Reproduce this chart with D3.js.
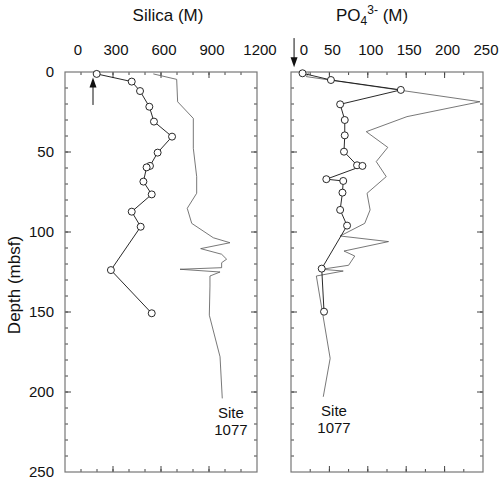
<!DOCTYPE html>
<html>
<head>
<meta charset="utf-8">
<script src="https://cdn.jsdelivr.net/npm/d3@7"></script>
<style>
  body { margin: 0; background: #fff; }
  text { font-family: "Liberation Sans", Arial, sans-serif; fill: #111; }
</style>
</head>
<body>
<script>
// silica, open circles (depth mbsf, uM)
const siDepth = [1.2, 6, 11.9, 21.7, 31, 40.4, 50.4, 58.7, 59.6, 68.5, 76.5, 87.3, 96.7, 123.8, 150.8];
const siValue = [198, 417, 469, 527, 556, 669, 579, 531, 510, 490, 542, 417, 473, 287, 542];
// silica, thin grey line
const siLineDepth = [1.2, 4.6, 18.6, 29, 47.7, 65.4, 75.8, 85.2, 94.6, 103.6, 106.7, 110.4, 113.9, 117, 119.2, 122.3, 123.3, 125, 127.5, 133.8, 152, 178, 204];
const siLineValue = [552, 698, 704, 802, 802, 823, 823, 764, 792, 927, 1031, 848, 979, 1010, 979, 979, 719, 969, 906, 906, 902, 969, 983];

// phosphate, open circles
const poDepth = [0.8, 5, 11.2, 20.2, 30, 39.6, 49.8, 58.3, 58.7, 67, 68.1, 75.4, 86.2, 96, 122.9, 149.8];
const poValue = [15, 52, 143, 64, 70, 70, 69, 86, 93, 46, 68, 67, 64, 73, 40, 43];
// phosphate, thin grey line
const poLineDepth = [0.4, 2.9, 18.6, 27.9, 37.3, 47.1, 56, 65.4, 75.8, 86.2, 94.6, 102.5, 106, 111.9, 115, 120.8, 123.3, 124.4, 127.5, 179, 203];
const poLineValue = [23, 20, 246, 151, 98, 126, 111, 124, 99, 103, 96, 64, 127, 69, 83, 75, 40, 68, 33, 51, 42];

const siTicks = [0, 300, 600, 900, 1200];
const poTicks = [0, 50, 100, 150, 200, 250];
const depthTicks = [0, 50, 100, 150, 200, 250];

const width = 502, height = 481;
const svg = d3.select("body").append("svg")
  .attr("width", width).attr("height", height);

const y = d3.scaleLinear().domain([0, 250]).range([72, 472]);
const xSi = d3.scaleLinear().domain([0, 1200]).range([65, 257]);
const xPo = d3.scaleLinear().domain([0, 250]).range([291, 483]);

//draws frame, inward ticks and top labels for one panel
function panel(x, minorStep, majorStep, labels, showDepth) {
  const g = svg.append("g");
  const [x0, x1] = x.range();
  const [d0, d1] = x.domain();
  const minor = d3.range(d0 + minorStep, d1, minorStep);
  const major = minor.filter(v => Math.abs(v / majorStep - Math.round(v / majorStep)) < 1e-6);
  const yMinor = d3.range(10, 250, 10);
  const yMajor = yMinor.filter(v => v % 50 === 0);

  const tick = (sel, data, len, horiz) => {
    sel.selectAll(null).data(data).join("line")
      .attr("stroke", "#444").attr("stroke-width", 1)
      .each(function(v) {
        const s = d3.select(this);
        if (horiz) {
          // top and bottom edges
          s.attr("x1", x(v)).attr("x2", x(v)).attr("y1", len.y).attr("y2", len.y + len.d);
        } else {
          s.attr("y1", y(v)).attr("y2", y(v)).attr("x1", len.x).attr("x2", len.x + len.d);
        }
      });
  };
  tick(g, minor, {y: 72, d: 3}, true);
  tick(g, major, {y: 72, d: 6}, true);
  tick(g, minor, {y: 472, d: -3}, true);
  tick(g, major, {y: 472, d: -6}, true);
  tick(g, yMinor, {x: x0, d: 3}, false);
  tick(g, yMajor, {x: x0, d: 6}, false);
  tick(g, yMinor, {x: x1, d: -3}, false);
  tick(g, yMajor, {x: x1, d: -6}, false);

  g.append("rect")
    .attr("x", x0).attr("y", y(0))
    .attr("width", x1 - x0).attr("height", y(250) - y(0))
    .attr("fill", "none").attr("stroke", "#777").attr("stroke-width", 1.2);

  g.selectAll(null).data(labels).join("text")
    .attr("x", v => x(v) + (v === 0 ? 13 : 3))
    .attr("y", 55)
    .attr("text-anchor", "middle")
    .style("font-size", "15px")
    .text(v => v);

  if (showDepth) {
    g.selectAll(null).data(depthTicks).join("text")
      .attr("x", 54).attr("y", d => y(d))
      .attr("dy", "0.35em")
      .attr("text-anchor", "end")
      .style("font-size", "15px")
      .text(d => d);
  }
}

panel(xSi, 100, 300, siTicks, true);
panel(xPo, 25, 50, poTicks, false);

//profile lines and circles
function profile(x, lineD, lineV, ptD, ptV) {
  const greyLine = d3.line().x(i => x(lineV[i])).y(i => y(lineD[i]));
  svg.append("path")
    .attr("d", greyLine(d3.range(lineD.length)))
    .attr("fill", "none").attr("stroke", "#555").attr("stroke-width", 0.8);

  const ptLine = d3.line().x(i => x(ptV[i])).y(i => y(ptD[i]));
  svg.append("path")
    .attr("d", ptLine(d3.range(ptD.length)))
    .attr("fill", "none").attr("stroke", "#111").attr("stroke-width", 0.9);

  svg.append("g").selectAll("circle").data(d3.range(ptD.length)).join("circle")
    .attr("cx", i => x(ptV[i])).attr("cy", i => y(ptD[i]))
    .attr("r", 3.5)
    .attr("fill", "#fff").attr("stroke", "#111").attr("stroke-width", 0.9);
}

profile(xSi, siLineDepth, siLineValue, siDepth, siValue);
profile(xPo, poLineDepth, poLineValue, poDepth, poValue);

// seawater arrows
function arrow(xp, yTail, yTip) {
  const dir = yTip < yTail ? 1 : -1;
  svg.append("line")
    .attr("x1", xp).attr("x2", xp).attr("y1", yTail).attr("y2", yTip + dir * 8)
    .attr("stroke", "#111").attr("stroke-width", 1);
  svg.append("path")
    .attr("d", `M${xp},${yTip} L${xp - 3.5},${yTip + dir * 10} L${xp + 3.5},${yTip + dir * 10} Z`)
    .attr("fill", "#111");
}
arrow(xSi(175), y(20.6), y(3.5));
arrow(xPo(4), y(-21.2), y(-3));

// titles
svg.append("text")
  .attr("x", 168).attr("y", 21).attr("text-anchor", "middle")
  .style("font-size", "17px").text("Silica (M)");

const po = svg.append("text").attr("x", 336).attr("y", 21).style("font-size", "17px");
po.append("tspan").text("PO");
po.append("tspan").attr("dy", 4).style("font-size", "12px").text("4");
po.append("tspan").attr("dy", -11).style("font-size", "12px").text("3-");
po.append("tspan").attr("dy", 7).text(" (M)");

svg.append("text")
  .attr("transform", "translate(20,285) rotate(-90)")
  .attr("text-anchor", "middle")
  .style("font-size", "17px")
  .text("Depth (mbsf)");

// site labels
[[xSi(1037), 418], [xPo(56), 416]].forEach(([xp, yp]) => {
  const t = svg.append("text").attr("text-anchor", "middle").style("font-size", "15px");
  t.append("tspan").attr("x", xp).attr("y", yp).text("Site");
  t.append("tspan").attr("x", xp).attr("y", yp + 17).text("1077");
});
</script>
</body>
</html>
